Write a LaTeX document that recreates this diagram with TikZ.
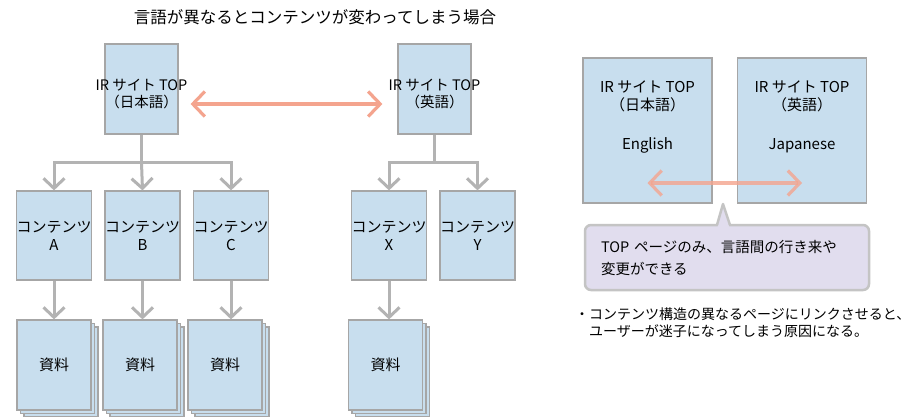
\documentclass[tikz,border=0pt]{standalone}
\usepackage{fontspec}
\setmainfont{Noto Sans CJK JP}
\usetikzlibrary{arrows.meta}
\definecolor{boxblue}{HTML}{C8DEEE}
\definecolor{boxline}{HTML}{A6A6A6}
\definecolor{treegray}{HTML}{B3B3B3}
\definecolor{salmon}{HTML}{F4A48E}
\definecolor{lav}{HTML}{E1DDEE}
\definecolor{callline}{HTML}{C4C4C4}
\tikzset{
  pagebox/.style={draw=boxline, fill=boxblue, line width=1.2pt, inner sep=0pt,
    minimum width=74pt, minimum height=90pt, align=center,
    font=\fontsize{15}{18}\selectfont},
  bigbox/.style={pagebox, minimum width=129pt, minimum height=145pt},
  plaintext/.style={inner sep=0pt, align=center, font=\fontsize{14.5}{17}\selectfont},
  treeline/.style={draw=treegray, line width=3pt},
  treearrow/.style={treeline, -{Straight Barb[length=10pt,width=21pt]}},
  linkarrow/.style={draw=salmon, line width=3.2pt,
    {Straight Barb[length=12pt,width=25pt]}-{Straight Barb[length=12pt,width=25pt]}},
  calloutbox/.style={draw=callline, fill=lav, line width=2.5pt, rounded corners=6pt,
    minimum width=284pt, minimum height=65pt, text width=252pt, inner sep=0pt,
    align=left, font=\fontsize{14.5}{22}\selectfont},
}
\begin{document}
\begin{tikzpicture}[x=1pt,y=-1pt]
\useasboundingbox[fill=white] (0,0) rectangle (919,416);

% title
\node[plaintext, font=\fontsize{16.5}{19}\selectfont] (title) at (315,17) {言語が異なるとコンテンツが変わってしまう場合};

% top pages
\node[pagebox, minimum width=73pt] (jp) at (141.5,89) {};
\node[plaintext] (jpt) at ([yshift=-5.5pt]jp.center) {IR サイト TOP\\（日本語）};
\node[pagebox, minimum width=73pt] (en) at (434.5,89) {};
\node[plaintext] (ent) at ([yshift=-5.5pt]en.center) {IR サイト TOP\\（英語）};

\draw[linkarrow] ([shift={(12pt,-15pt)}]jp.east) -- ([shift={(-15pt,-15pt)}]en.west);

% contents
\node[pagebox, minimum height=89pt] (ca) at (54,235.5) {コンテンツ\\A};
\node[pagebox, minimum height=89pt] (cb) at (142.5,235.5) {コンテンツ\\B};
\node[pagebox, minimum height=89pt] (cc) at (231,235.5) {コンテンツ\\C};
\node[pagebox, minimum height=89pt] (cx) at (389,235.5) {コンテンツ\\X};
\node[pagebox, minimum height=89pt] (cy) at (477.5,235.5) {コンテンツ\\Y};

% documents (stacks)
\foreach \n/\x in {da/54, db/140, dc/225, dx/385.5}{
  \node[pagebox] at (\x+7,372) {};
  \node[pagebox] at (\x+3.5,368.5) {};
  \node[pagebox] (\n) at (\x,365) {資料};
}

% tree connectors
\coordinate (jpb) at ([yshift=-28pt]jp.south);
\coordinate (enb) at ([yshift=-28pt]en.south);
\draw[treeline] (jp.south) -- (jpb);
\draw[treearrow] (jpb) -| (ca.north);
\draw[treearrow] (jpb) -| (cc.north);
\draw[treearrow] (jpb) -- (cb.north);
\draw[treeline] (en.south) -- (enb);
\draw[treearrow] (enb) -| (cx.north);
\draw[treearrow] (enb) -| (cy.north);

\foreach \c/\d in {ca/da, cb/db, cc/dc, cx/dx}{
  \draw[treearrow] (\c.south) -- (\c.south |- \d.north);
}

% right panel
\node[bigbox] (rjp) at (647.5,130.5) {};
\node[bigbox] (ren) at (802,130.5) {};
\node[plaintext, anchor=north, font=\fontsize{15}{18}\selectfont] (rjpt) at ([yshift=-23pt]rjp.north) {IR サイト TOP\\（日本語）\\[21pt]English};
\node[plaintext, anchor=north, font=\fontsize{15}{18}\selectfont] (rent) at ([yshift=-23pt]ren.north) {IR サイト TOP\\（英語）\\[21pt]Japanese};
\draw[linkarrow, opacity=0.8] ([yshift=-52.5pt]rjp.center) -- ([yshift=-52.5pt]ren.center);

% callout
\node[calloutbox] (callout) at (727,257.5) {TOP ページのみ、言語間の行き来や\\変更ができる};
\coordinate (tip) at (723,204);
\fill[lav] (717.5,227.5) -- (tip) -- (729.5,227.5) -- cycle;
\draw[callline, line width=2.5pt, line join=round] (717,225) -- (tip) -- (730,225);

% note
\node[inner sep=0pt, anchor=north west, align=left, font=\fontsize{14}{17}\selectfont] (note) at (575,308) {・コンテンツ構造の異なるページにリンクさせると、\\\hspace*{1em}ユーザーが迷子になってしまう原因になる。};
\end{tikzpicture}
\end{document}
